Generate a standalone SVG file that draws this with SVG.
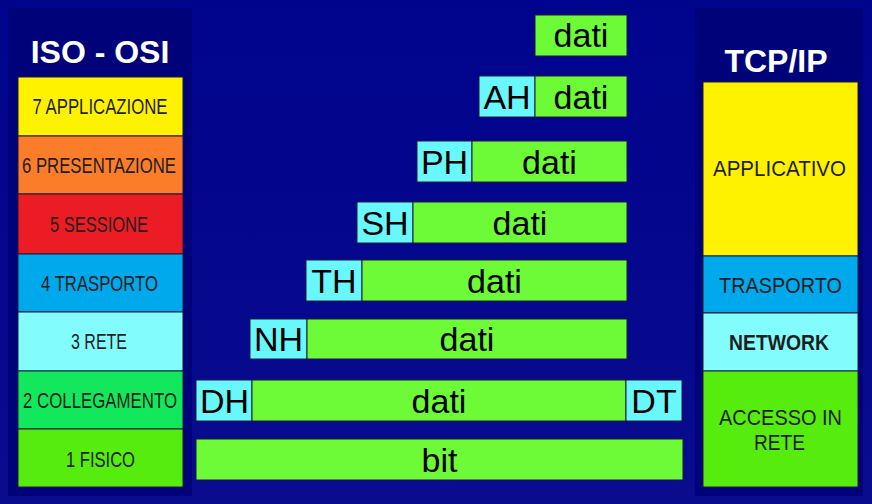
<svg xmlns="http://www.w3.org/2000/svg" width="872" height="504" viewBox="0 0 872 504">
<defs>
<linearGradient id="bg" x1="0" y1="0" x2="0" y2="1">
<stop offset="0" stop-color="#00038c"/>
<stop offset="1" stop-color="#0a0c8e"/>
</linearGradient>
<style>
.title{font-family:"Liberation Sans",Arial,sans-serif;font-weight:bold;font-size:32px;fill:#ffffff;text-anchor:middle}
.lay{font-family:"Liberation Sans",Arial,sans-serif;font-size:22px;fill:#1e1e1e;text-anchor:middle}
.box{stroke:#1a1a3a;stroke-width:1}
.pdu{font-family:"Liberation Sans",Arial,sans-serif;font-size:34px;fill:#000000;text-anchor:middle}
.g{fill:#6cfb36}
.c{fill:#68f8fc}
.panel{fill:#00027a}
</style>
</defs>
<rect x="0" y="0" width="872" height="504" fill="url(#bg)"/>
<rect class="panel" x="8" y="8" width="184" height="488"/>
<rect class="panel" x="695" y="8" width="168" height="488"/>

<g id="osi-title"><text class="title" x="100" y="63">ISO - OSI</text></g>
<g id="osi-7"><rect class="box" x="18" y="77" width="165" height="59" fill="#fff200"/><text class="lay" x="100" y="114" textLength="135" lengthAdjust="spacingAndGlyphs">7 APPLICAZIONE</text></g>
<g id="osi-6"><rect class="box" x="18" y="136" width="165" height="58" fill="#fb7d2a"/><text class="lay" x="99" y="173" textLength="154" lengthAdjust="spacingAndGlyphs">6 PRESENTAZIONE</text></g>
<g id="osi-5"><rect class="box" x="18" y="194" width="165" height="60" fill="#ec1c24"/><text class="lay" x="99" y="232" textLength="98" lengthAdjust="spacingAndGlyphs">5 SESSIONE</text></g>
<g id="osi-4"><rect class="box" x="18" y="254" width="165" height="58" fill="#00a8ec"/><text class="lay" x="99.5" y="291" textLength="117" lengthAdjust="spacingAndGlyphs">4 TRASPORTO</text></g>
<g id="osi-3"><rect class="box" x="18" y="312" width="165" height="59" fill="#82fcfd"/><text class="lay" x="99" y="349" textLength="56" lengthAdjust="spacingAndGlyphs">3 RETE</text></g>
<g id="osi-2"><rect class="box" x="18" y="371" width="165" height="58" fill="#13e85c"/><text class="lay" x="100" y="408" textLength="154" lengthAdjust="spacingAndGlyphs">2 COLLEGAMENTO</text></g>
<g id="osi-1"><rect class="box" x="18" y="429" width="165" height="58" fill="#55ec0e"/><text class="lay" x="100.5" y="467" textLength="69" lengthAdjust="spacingAndGlyphs">1 FISICO</text></g>

<g id="tcp-title"><text class="title" x="776" y="72">TCP/IP</text></g>
<g id="tcp-app"><rect class="box" x="703" y="82" width="155" height="174" fill="#fff200"/><text class="lay" x="779.5" y="176" textLength="133" lengthAdjust="spacingAndGlyphs">APPLICATIVO</text></g>
<g id="tcp-trasp"><rect class="box" x="703" y="256" width="155" height="57" fill="#00a8ec"/><text class="lay" x="780.5" y="293" textLength="123" lengthAdjust="spacingAndGlyphs">TRASPORTO</text></g>
<g id="tcp-net"><rect class="box" x="703" y="313" width="155" height="58" fill="#82fcfd"/><text class="lay" x="779" y="350" textLength="100" lengthAdjust="spacingAndGlyphs" font-weight="bold">NETWORK</text></g>
<g id="tcp-acc"><rect class="box" x="703" y="371" width="155" height="116" fill="#55ec0e"/><text class="lay" x="780.5" y="425" textLength="123" lengthAdjust="spacingAndGlyphs">ACCESSO IN</text><text class="lay" x="779.5" y="450" textLength="51" lengthAdjust="spacingAndGlyphs">RETE</text></g>

<g id="pdu-1"><rect class="box g" x="535" y="15" width="92" height="41"/><text class="pdu" x="581" y="47">dati</text></g>
<g id="pdu-2"><rect class="box c" x="479" y="76" width="56" height="41"/><text class="pdu" x="507" y="109">AH</text><rect class="box g" x="535" y="76" width="92" height="41"/><text class="pdu" x="581" y="109">dati</text></g>
<g id="pdu-3"><rect class="box c" x="417" y="141" width="55" height="41"/><text class="pdu" x="444.5" y="174">PH</text><rect class="box g" x="472" y="141" width="155" height="41"/><text class="pdu" x="549.5" y="174">dati</text></g>
<g id="pdu-4"><rect class="box c" x="357" y="202" width="56" height="41"/><text class="pdu" x="385" y="235">SH</text><rect class="box g" x="413" y="202" width="214" height="41"/><text class="pdu" x="520" y="235">dati</text></g>
<g id="pdu-5"><rect class="box c" x="306" y="260" width="56" height="41"/><text class="pdu" x="334" y="293">TH</text><rect class="box g" x="362" y="260" width="265" height="41"/><text class="pdu" x="494.5" y="293">dati</text></g>
<g id="pdu-6"><rect class="box c" x="250" y="319" width="57" height="40"/><text class="pdu" x="278.5" y="351">NH</text><rect class="box g" x="307" y="319" width="320" height="40"/><text class="pdu" x="467" y="351">dati</text></g>
<g id="pdu-7"><rect class="box c" x="196" y="380" width="56" height="41"/><text class="pdu" x="224.5" y="413" font-size="33">DH</text><rect class="box g" x="252" y="380" width="374" height="41"/><text class="pdu" x="439" y="413">dati</text><rect class="box c" x="626" y="380" width="56" height="41"/><text class="pdu" x="654" y="413">DT</text></g>
<g id="pdu-8"><rect class="box g" x="196" y="439" width="487" height="41"/><text class="pdu" x="439.5" y="472">bit</text></g>
<g id="connectors"></g>
</svg>
